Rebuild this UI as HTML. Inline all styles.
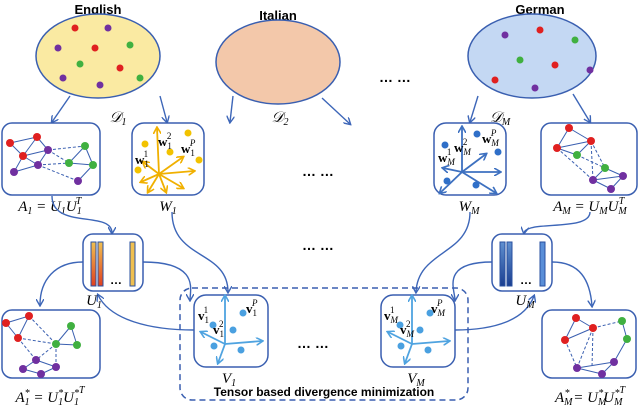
<!DOCTYPE html>
<html><head><meta charset="utf-8"><style>
html,body{margin:0;padding:0;background:#fff;}
svg{display:block;}
text{font-family:"Liberation Serif",serif;}
.b{font-family:"Liberation Sans",sans-serif;font-weight:bold;}
.it{font-style:italic;font-size:15px;}
.bx{fill:#fff;stroke:#3a5fb0;stroke-width:1.5;}
.ar{fill:none;stroke:#3d66b8;stroke-width:1.4;marker-end:url(#ah);}
.e{stroke:#3a5fb0;stroke-width:1;}
.ed{stroke:#3a5fb0;stroke-width:1;stroke-dasharray:3 2;}
</style></head><body>
<svg width="640" height="406" viewBox="0 0 640 406" xmlns="http://www.w3.org/2000/svg">
<defs>
<marker id="ah" markerWidth="8" markerHeight="8" refX="6" refY="4" orient="auto" markerUnits="userSpaceOnUse"><path d="M0,0 L7,4 L0,8" fill="none" stroke="#3d66b8" stroke-width="1.4"/></marker>
<marker id="ay" markerWidth="8" markerHeight="8" refX="6" refY="4" orient="auto" markerUnits="userSpaceOnUse"><path d="M0,0 L7,4 L0,8" fill="none" stroke="#f0b000" stroke-width="1.6"/></marker>
<marker id="ab" markerWidth="8" markerHeight="8" refX="6" refY="4" orient="auto" markerUnits="userSpaceOnUse"><path d="M0,0 L7,4 L0,8" fill="none" stroke="#3d70c0" stroke-width="1.6"/></marker>
<marker id="al" markerWidth="8" markerHeight="8" refX="6" refY="4" orient="auto" markerUnits="userSpaceOnUse"><path d="M0,0 L7,4 L0,8" fill="none" stroke="#4fa3e0" stroke-width="1.6"/></marker>
<linearGradient id="gy" x1="0" y1="0" x2="0" y2="1"><stop offset="0" stop-color="#f0c050"/><stop offset="1" stop-color="#e04020"/></linearGradient>
<linearGradient id="gb" x1="0" y1="0" x2="0" y2="1"><stop offset="0" stop-color="#6090d0"/><stop offset="1" stop-color="#1a3e90"/></linearGradient>
</defs>

<!-- titles -->
<text x="98" y="14" class="b" font-size="13" text-anchor="middle">English</text>
<text x="278" y="20" class="b" font-size="13" text-anchor="middle">Italian</text>
<text x="540" y="14" class="b" font-size="13" text-anchor="middle">German</text>

<!-- ellipses -->
<ellipse cx="98" cy="56" rx="62" ry="42" fill="#faeaa2" stroke="#3a5fb0" stroke-width="1.5"/>
<ellipse cx="278" cy="62" rx="62" ry="42" fill="#f3c8aa" stroke="#3a5fb0" stroke-width="1.5"/>
<ellipse cx="532" cy="56" rx="64" ry="42" fill="#c4d8f3" stroke="#3a5fb0" stroke-width="1.5"/>
<g>
<circle cx="75" cy="28" r="3.5" fill="#e02020"/><circle cx="108" cy="28" r="3.5" fill="#7030a0"/>
<circle cx="58" cy="48" r="3.5" fill="#7030a0"/><circle cx="95" cy="48" r="3.5" fill="#e02020"/>
<circle cx="130" cy="45" r="3.5" fill="#40b040"/><circle cx="80" cy="64" r="3.5" fill="#40b040"/>
<circle cx="120" cy="68" r="3.5" fill="#e02020"/><circle cx="63" cy="78" r="3.5" fill="#7030a0"/>
<circle cx="100" cy="85" r="3.5" fill="#7030a0"/><circle cx="140" cy="78" r="3.5" fill="#40b040"/>
<circle cx="505" cy="35" r="3.5" fill="#7030a0"/><circle cx="540" cy="30" r="3.5" fill="#e02020"/>
<circle cx="575" cy="40" r="3.5" fill="#40b040"/><circle cx="520" cy="60" r="3.5" fill="#40b040"/>
<circle cx="555" cy="65" r="3.5" fill="#e02020"/><circle cx="590" cy="70" r="3.5" fill="#7030a0"/>
<circle cx="495" cy="80" r="3.5" fill="#e02020"/><circle cx="535" cy="88" r="3.5" fill="#7030a0"/>
</g>
<text x="395" y="82" class="b" font-size="14" text-anchor="middle">… …</text>

<text x="118" y="122" class="it" text-anchor="middle">𝒟<tspan font-size="10" dy="3">1</tspan></text>
<text x="280" y="122" class="it" text-anchor="middle">𝒟<tspan font-size="10" dy="3">2</tspan></text>
<text x="500" y="122" class="it" text-anchor="middle">𝒟<tspan font-size="10" dy="3">M</tspan></text>

<!-- arrows from ellipses -->
<path class="ar" d="M70,96 L52,122"/>
<path class="ar" d="M160,96 L167,122"/>
<path class="ar" d="M233,96 L230,122"/>
<path class="ar" d="M322,98 L350,124"/>
<path class="ar" d="M478,96 L470,122"/>
<path class="ar" d="M573,94 L590,122"/>

<!-- A1 box -->
<rect class="bx" x="2" y="123" width="98" height="72" rx="10"/>
<g>
<line class="e" x1="10" y1="143" x2="37" y2="137"/><line class="e" x1="10" y1="143" x2="23" y2="156"/>
<line class="e" x1="37" y1="137" x2="23" y2="156"/><line class="e" x1="37" y1="137" x2="48" y2="150"/>
<line class="e" x1="23" y1="156" x2="38" y2="165"/><line class="e" x1="23" y1="156" x2="48" y2="150"/>
<line class="e" x1="14" y1="172" x2="23" y2="156"/><line class="e" x1="14" y1="172" x2="38" y2="165"/>
<line class="e" x1="38" y1="165" x2="48" y2="150"/>
<line class="ed" x1="48" y1="150" x2="85" y2="146"/><line class="ed" x1="48" y1="150" x2="69" y2="163"/>
<line class="ed" x1="38" y1="165" x2="69" y2="163"/><line class="ed" x1="38" y1="165" x2="78" y2="181"/>
<line class="e" x1="85" y1="146" x2="69" y2="163"/><line class="e" x1="85" y1="146" x2="93" y2="165"/>
<line class="e" x1="69" y1="163" x2="93" y2="165"/><line class="e" x1="93" y1="165" x2="78" y2="181"/>
<circle cx="10" cy="143" r="4" fill="#e02020"/><circle cx="37" cy="137" r="4" fill="#e02020"/>
<circle cx="23" cy="156" r="4" fill="#e02020"/><circle cx="48" cy="150" r="4" fill="#7030a0"/>
<circle cx="38" cy="165" r="4" fill="#7030a0"/><circle cx="14" cy="172" r="4" fill="#7030a0"/>
<circle cx="85" cy="146" r="4" fill="#40b040"/><circle cx="69" cy="163" r="4" fill="#40b040"/>
<circle cx="93" cy="165" r="4" fill="#40b040"/><circle cx="78" cy="181" r="4" fill="#7030a0"/>
</g>
<text x="50" y="211" class="it" text-anchor="middle">A<tspan font-size="10" dy="3">1</tspan><tspan dy="-3"> = U</tspan><tspan font-size="10" dy="3">1</tspan><tspan dy="-3">U</tspan><tspan font-size="10" dy="3">1</tspan><tspan font-size="10" dx="-6" dy="-10">T</tspan></text>

<!-- W1 box -->
<rect class="bx" x="132" y="123" width="72" height="72" rx="12"/>
<g stroke="#f0b000" stroke-width="1.8" marker-end="url(#ay)">
<line x1="159" y1="174" x2="157" y2="128"/><line x1="159" y1="174" x2="183" y2="157"/>
<line x1="159" y1="174" x2="194" y2="171"/><line x1="159" y1="174" x2="183" y2="188"/>
<line x1="159" y1="174" x2="166" y2="192"/><line x1="159" y1="174" x2="148" y2="192"/>
<line x1="159" y1="174" x2="141" y2="182"/><line x1="159" y1="174" x2="143" y2="162"/>
</g>
<g fill="#f2c200"><circle cx="188" cy="133" r="3.5"/><circle cx="145" cy="144" r="3.5"/><circle cx="170" cy="152" r="3.5"/><circle cx="199" cy="160" r="3.5"/><circle cx="138" cy="170" r="3.5"/></g>
<text x="158" y="146" font-size="13" font-weight="bold">w<tspan font-size="9" dy="3" font-weight="normal">1</tspan><tspan font-size="9" dx="-5" dy="-10" font-weight="normal">2</tspan></text>
<text x="181" y="153" font-size="13" font-weight="bold">w<tspan font-size="9" dy="3" font-weight="normal">1</tspan><tspan font-size="9" dx="-5" dy="-10" font-style="italic" font-weight="normal">P</tspan></text>
<text x="135" y="164" font-size="13" font-weight="bold">w<tspan font-size="9" dy="3" font-weight="normal">1</tspan><tspan font-size="9" dx="-5" dy="-10" font-weight="normal">1</tspan></text>
<text x="168" y="211" class="it" text-anchor="middle">W<tspan font-size="10" dy="3">1</tspan></text>

<!-- WM box -->
<rect class="bx" x="434" y="123" width="72" height="72" rx="12"/>
<g stroke="#3d70c0" stroke-width="1.8" marker-end="url(#ab)">
<line x1="462" y1="172" x2="462" y2="127"/><line x1="462" y1="172" x2="486" y2="154"/>
<line x1="462" y1="172" x2="500" y2="172"/><line x1="462" y1="172" x2="496" y2="193"/>
<line x1="462" y1="172" x2="440" y2="193"/><line x1="462" y1="172" x2="443" y2="168"/>
</g>
<g fill="#2f6fc8"><circle cx="477" cy="134" r="3.5"/><circle cx="445" cy="145" r="3.5"/><circle cx="498" cy="152" r="3.5"/><circle cx="447" cy="181" r="3.5"/><circle cx="476" cy="185" r="3.5"/></g>
<text x="454" y="152" font-size="13" font-weight="bold">w<tspan font-size="9" dy="3" font-style="italic" font-weight="normal">M</tspan><tspan font-size="9" dx="-8" dy="-10" font-weight="normal">2</tspan></text>
<text x="482" y="143" font-size="13" font-weight="bold">w<tspan font-size="9" dy="3" font-style="italic" font-weight="normal">M</tspan><tspan font-size="9" dx="-8" dy="-10" font-style="italic" font-weight="normal">P</tspan></text>
<text x="438" y="162" font-size="13" font-weight="bold">w<tspan font-size="9" dy="3" font-style="italic" font-weight="normal">M</tspan><tspan font-size="9" dx="-8" dy="-10" font-weight="normal">1</tspan></text>
<text x="469" y="211" class="it" text-anchor="middle">W<tspan font-size="10" dy="3">M</tspan></text>

<!-- AM box -->
<rect class="bx" x="541" y="123" width="96" height="72" rx="10"/>
<g>
<line class="e" x1="569" y1="128" x2="591" y2="141"/><line class="e" x1="569" y1="128" x2="557" y2="148"/>
<line class="e" x1="557" y1="148" x2="591" y2="141"/><line class="e" x1="557" y1="148" x2="577" y2="155"/>
<line class="e" x1="591" y1="141" x2="577" y2="155"/>
<line class="ed" x1="591" y1="141" x2="605" y2="168"/><line class="ed" x1="591" y1="141" x2="593" y2="180"/>
<line class="ed" x1="557" y1="148" x2="593" y2="180"/><line class="ed" x1="577" y1="155" x2="605" y2="168"/>
<line class="e" x1="605" y1="168" x2="593" y2="180"/><line class="e" x1="593" y1="180" x2="623" y2="176"/>
<line class="e" x1="605" y1="168" x2="623" y2="176"/><line class="e" x1="593" y1="180" x2="611" y2="189"/>
<line class="e" x1="611" y1="189" x2="623" y2="176"/>
<circle cx="569" cy="128" r="4" fill="#e02020"/><circle cx="591" cy="141" r="4" fill="#e02020"/>
<circle cx="557" cy="148" r="4" fill="#e02020"/><circle cx="577" cy="155" r="4" fill="#40b040"/>
<circle cx="605" cy="168" r="4" fill="#40b040"/><circle cx="593" cy="180" r="4" fill="#7030a0"/>
<circle cx="623" cy="176" r="4" fill="#7030a0"/><circle cx="611" cy="189" r="4" fill="#7030a0"/>
</g>
<text x="590" y="211" class="it" text-anchor="middle">A<tspan font-size="10" dy="3">M</tspan><tspan dy="-3"> = U</tspan><tspan font-size="10" dy="3">M</tspan><tspan dy="-3">U</tspan><tspan font-size="10" dy="3">M</tspan><tspan font-size="10" dx="-8" dy="-10">T</tspan></text>

<text x="318" y="176" class="b" font-size="14" text-anchor="middle">… …</text>
<text x="318" y="250" class="b" font-size="14" text-anchor="middle">… …</text>

<!-- curves -->
<path class="ar" d="M52,196 C52,230 112,210 112,233"/>
<path class="ar" d="M172,212 C172,260 228,250 228,292"/>
<path class="ar" d="M470,212 C470,255 418,250 416,292"/>
<path class="ar" d="M590,212 C590,232 526,220 524,233"/>
<path class="ar" d="M83,262 C55,262 40,280 40,305"/>
<path class="ar" d="M552,262 C580,262 590,280 592,306"/>
<path class="ar" d="M143,262 C200,262 190,290 190,300"/>
<path class="ar" d="M194,330 C150,330 110,320 98,295"/>
<path class="ar" d="M492,262 C440,262 455,290 455,300"/>
<path class="ar" d="M455,330 C495,330 525,320 534,296"/>

<!-- U1 box -->
<rect class="bx" x="83" y="234" width="60" height="57" rx="10"/>
<rect x="91" y="242" width="5" height="44" fill="url(#gy)" stroke="#2a50a0" stroke-width="1"/>
<rect x="98" y="242" width="5" height="44" fill="url(#gy)" stroke="#2a50a0" stroke-width="1"/>
<rect x="130" y="242" width="5" height="44" fill="#f0c050" stroke="#2a50a0" stroke-width="1"/>
<text x="116" y="284" class="b" font-size="12" text-anchor="middle">…</text>
<text x="94" y="305" class="it" text-anchor="middle">U<tspan font-size="10" dy="3">1</tspan></text>

<!-- UM box -->
<rect class="bx" x="492" y="234" width="60" height="57" rx="10"/>
<rect x="500" y="242" width="5" height="44" fill="url(#gb)" stroke="#2a50a0" stroke-width="1"/>
<rect x="507" y="242" width="5" height="44" fill="url(#gb)" stroke="#2a50a0" stroke-width="1"/>
<rect x="540" y="242" width="5" height="44" fill="#5a8fd8" stroke="#2a50a0" stroke-width="1"/>
<text x="526" y="284" class="b" font-size="12" text-anchor="middle">…</text>
<text x="525" y="305" class="it" text-anchor="middle">U<tspan font-size="10" dy="3">M</tspan></text>

<!-- dashed group -->
<rect x="180" y="288" width="288" height="112" rx="12" fill="none" stroke="#3a5fb0" stroke-width="1.5" stroke-dasharray="6 4"/>

<!-- V1 -->
<rect class="bx" x="194" y="295" width="74" height="72" rx="12"/>
<g stroke="#4fa3e0" stroke-width="1.8" marker-end="url(#al)">
<line x1="225" y1="344" x2="225" y2="296"/><line x1="225" y1="344" x2="262" y2="341"/>
<line x1="225" y1="344" x2="201" y2="332"/><line x1="225" y1="344" x2="218" y2="363"/>
</g>
<g fill="#4aa0e0"><circle cx="243" cy="313" r="3.5"/><circle cx="213" cy="325" r="3.5"/><circle cx="233" cy="330" r="3.5"/><circle cx="214" cy="346" r="3.5"/><circle cx="241" cy="350" r="3.5"/></g>
<text x="198" y="320" font-size="13" font-weight="bold">v<tspan font-size="9" dy="3" font-weight="normal">1</tspan><tspan font-size="9" dx="-5" dy="-10" font-weight="normal">1</tspan></text>
<text x="213" y="334" font-size="13" font-weight="bold">v<tspan font-size="9" dy="3" font-weight="normal">1</tspan><tspan font-size="9" dx="-5" dy="-10" font-weight="normal">2</tspan></text>
<text x="246" y="313" font-size="13" font-weight="bold">v<tspan font-size="9" dy="3" font-weight="normal">1</tspan><tspan font-size="9" dx="-5" dy="-10" font-style="italic" font-weight="normal">P</tspan></text>
<text x="229" y="383" class="it" text-anchor="middle">V<tspan font-size="10" dy="3">1</tspan></text>

<!-- VM -->
<rect class="bx" x="381" y="295" width="74" height="72" rx="12"/>
<g stroke="#4fa3e0" stroke-width="1.8" marker-end="url(#al)">
<line x1="412" y1="344" x2="412" y2="296"/><line x1="412" y1="344" x2="449" y2="341"/>
<line x1="412" y1="344" x2="388" y2="332"/><line x1="412" y1="344" x2="405" y2="363"/>
</g>
<g fill="#4aa0e0"><circle cx="430" cy="313" r="3.5"/><circle cx="400" cy="325" r="3.5"/><circle cx="420" cy="330" r="3.5"/><circle cx="401" cy="346" r="3.5"/><circle cx="428" cy="350" r="3.5"/></g>
<text x="384" y="320" font-size="13" font-weight="bold">v<tspan font-size="9" dy="3" font-style="italic" font-weight="normal">M</tspan><tspan font-size="9" dx="-8" dy="-10" font-weight="normal">1</tspan></text>
<text x="400" y="334" font-size="13" font-weight="bold">v<tspan font-size="9" dy="3" font-style="italic" font-weight="normal">M</tspan><tspan font-size="9" dx="-8" dy="-10" font-weight="normal">2</tspan></text>
<text x="431" y="313" font-size="13" font-weight="bold">v<tspan font-size="9" dy="3" font-style="italic" font-weight="normal">M</tspan><tspan font-size="9" dx="-8" dy="-10" font-style="italic" font-weight="normal">P</tspan></text>
<text x="416" y="383" class="it" text-anchor="middle">V<tspan font-size="10" dy="3">M</tspan></text>

<text x="313" y="348" class="b" font-size="14" text-anchor="middle">… …</text>
<text x="324" y="396" class="b" font-size="12" text-anchor="middle">Tensor based divergence minimization</text>

<!-- A1* -->
<rect class="bx" x="2" y="310" width="98" height="68" rx="10"/>
<g>
<line class="e" x1="6" y1="323" x2="29" y2="316"/><line class="e" x1="6" y1="323" x2="18" y2="338"/>
<line class="e" x1="29" y1="316" x2="18" y2="338"/>
<line class="ed" x1="29" y1="316" x2="56" y2="344"/><line class="ed" x1="18" y1="338" x2="56" y2="344"/>
<line class="ed" x1="18" y1="338" x2="36" y2="360"/><line class="ed" x1="56" y1="344" x2="36" y2="360"/>
<line class="ed" x1="56" y1="344" x2="56" y2="367"/>
<line class="e" x1="71" y1="326" x2="56" y2="344"/><line class="e" x1="56" y1="344" x2="77" y2="345"/>
<line class="e" x1="71" y1="326" x2="77" y2="345"/>
<line class="e" x1="36" y1="360" x2="23" y2="369"/><line class="e" x1="36" y1="360" x2="56" y2="367"/>
<line class="e" x1="23" y1="369" x2="41" y2="374"/><line class="e" x1="41" y1="374" x2="56" y2="367"/>
<circle cx="6" cy="323" r="4" fill="#e02020"/><circle cx="29" cy="316" r="4" fill="#e02020"/>
<circle cx="18" cy="338" r="4" fill="#e02020"/><circle cx="71" cy="326" r="4" fill="#40b040"/>
<circle cx="56" cy="344" r="4" fill="#40b040"/><circle cx="77" cy="345" r="4" fill="#40b040"/>
<circle cx="36" cy="360" r="4" fill="#7030a0"/><circle cx="23" cy="369" r="4" fill="#7030a0"/>
<circle cx="41" cy="374" r="4" fill="#7030a0"/><circle cx="56" cy="367" r="4" fill="#7030a0"/>
</g>
<text x="50" y="402" class="it" text-anchor="middle">A<tspan font-size="10" dy="3">1</tspan><tspan font-size="10" dx="-5" dy="-9">*</tspan><tspan dy="6"> = U</tspan><tspan font-size="10" dy="3">1</tspan><tspan font-size="10" dx="-5" dy="-9">*</tspan><tspan dy="6">U</tspan><tspan font-size="10" dy="3">1</tspan><tspan font-size="10" dx="-5" dy="-9">*</tspan><tspan font-size="10" dy="-3">T</tspan></text>

<!-- AM* -->
<rect class="bx" x="542" y="310" width="94" height="68" rx="10"/>
<g>
<line class="e" x1="576" y1="318" x2="593" y2="328"/><line class="e" x1="576" y1="318" x2="565" y2="340"/>
<line class="e" x1="565" y1="340" x2="593" y2="328"/>
<line class="ed" x1="593" y1="328" x2="622" y2="321"/><line class="ed" x1="593" y1="328" x2="592" y2="367"/>
<line class="ed" x1="565" y1="340" x2="577" y2="368"/><line class="ed" x1="593" y1="328" x2="577" y2="368"/>
<line class="e" x1="622" y1="321" x2="627" y2="339"/><line class="e" x1="627" y1="339" x2="614" y2="362"/>
<line class="e" x1="577" y1="368" x2="614" y2="362"/><line class="e" x1="577" y1="368" x2="602" y2="374"/>
<line class="e" x1="602" y1="374" x2="614" y2="362"/>
<circle cx="576" cy="318" r="4" fill="#e02020"/><circle cx="593" cy="328" r="4" fill="#e02020"/>
<circle cx="565" cy="340" r="4" fill="#e02020"/><circle cx="622" cy="321" r="4" fill="#40b040"/>
<circle cx="627" cy="339" r="4" fill="#40b040"/><circle cx="614" cy="362" r="4" fill="#7030a0"/>
<circle cx="577" cy="368" r="4" fill="#7030a0"/><circle cx="602" cy="374" r="4" fill="#7030a0"/>
</g>
<text x="590" y="402" class="it" text-anchor="middle">A<tspan font-size="10" dy="3">M</tspan><tspan font-size="10" dx="-8" dy="-9">*</tspan><tspan dy="6"> = U</tspan><tspan font-size="10" dy="3">M</tspan><tspan font-size="10" dx="-8" dy="-9">*</tspan><tspan dy="6">U</tspan><tspan font-size="10" dy="3">M</tspan><tspan font-size="10" dx="-8" dy="-9">*</tspan><tspan font-size="10" dy="-3">T</tspan></text>
</svg>
</body></html>
